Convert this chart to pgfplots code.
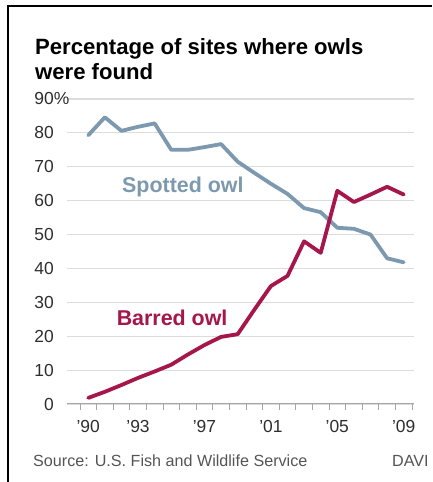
\documentclass[border=0pt]{standalone}
\usepackage{fontspec}
\setmainfont{Liberation Sans}
\usepackage{pgfplots}
\pgfplotsset{compat=1.18}
\definecolor{spotted}{HTML}{7D99AF}
\definecolor{barred}{HTML}{A5164A}
\definecolor{gridc}{HTML}{DCDCDC}
\definecolor{srcc}{HTML}{555555}
\definecolor{labc}{HTML}{2E2E2E}

\begin{document}
\begin{tikzpicture}[x=1bp,y=1bp]
\useasboundingbox (0,0) rectangle (432,482);
\fill[white] (0,0) rectangle (432,482);
\draw[black,line width=2bp] (8,0) -- (8,476) -- (432,476);
% title
\node[anchor=base west,inner sep=0,font=\bfseries\fontsize{22.2}{26}\selectfont] at (35,427) {Percentage of sites where owls};
\node[anchor=base west,inner sep=0,font=\bfseries\fontsize{22.2}{26}\selectfont] at (35,402) {were found};
\begin{axis}[
  at={(67bp,78bp)}, anchor=south west,
  scale only axis, width=347bp, height=305bp,
  xmin=1988.72, xmax=2009.62, ymin=0, ymax=90,
  axis x line*=bottom, axis y line*=left,
  y axis line style={draw=none},
  x axis line style={draw=gray!70, line width=1bp},
  ymajorgrids, grid style={gridc, line width=1.2bp},
  ytick={0,10,...,90},
  yticklabels={0,10,20,30,40,50,60,70,80,90\rlap{\%}},
  major tick length=0pt,
  xtick={1990,1993,1997,2001,2005,2009},
  xticklabels={’90,’93,’97,’01,’05,’09},
  minor xtick={1989.5,1990.5,...,2009.5},
  minor tick length=6bp, tick align=outside,
  minor x tick style={draw=gray!70, line width=0.8bp},
  every tick label/.append style={labc, font=\fontsize{17.5}{20}\selectfont},
  yticklabel style={anchor=east, inner sep=0pt, xshift=-13bp, fill=white},
  xticklabel style={anchor=base, yshift=-29bp},
  clip=false,
]
\addplot[spotted, line width=3.8bp, line join=round, line cap=round] coordinates {
  (1990,79.3) (1991,84.6) (1992,80.6) (1993,81.8) (1994,82.8)
  (1995,75.0) (1996,75.0) (1997,75.8) (1998,76.7) (1999,71.5)
  (2000,68.2) (2001,65.0) (2002,62.0) (2003,57.8) (2004,56.6)
  (2005,52.0) (2006,51.7) (2007,50.0) (2008,43.0) (2009,41.8)
};
\addplot[barred, line width=3.8bp, line join=round, line cap=round] coordinates {
  (1990,1.8) (1991,3.6) (1992,5.6) (1993,7.7) (1994,9.6)
  (1995,11.6) (1996,14.6) (1997,17.4) (1998,19.8) (1999,20.6)
  (2000,27.8) (2001,34.8) (2002,37.8) (2003,48.0) (2004,44.6)
  (2005,62.9) (2006,59.6) (2007,61.8) (2008,64.1) (2009,61.8)
};
\node[spotted, font=\bfseries\fontsize{21.5}{24}\selectfont] at (axis cs:1995.7,64) {Spotted owl};
\node[barred, font=\bfseries\fontsize{21.5}{24}\selectfont] at (axis cs:1995.05,25.4) {Barred owl};
\end{axis}
\node[anchor=base west,inner sep=0,srcc,font=\fontsize{16.2}{19}\selectfont] at (33,15) {Source: U.S. Fish and Wildlife Service};
\node[anchor=base west,inner sep=0,srcc,font=\fontsize{16.2}{19}\selectfont] at (392,15) {DAVI};
\end{tikzpicture}
\end{document}
